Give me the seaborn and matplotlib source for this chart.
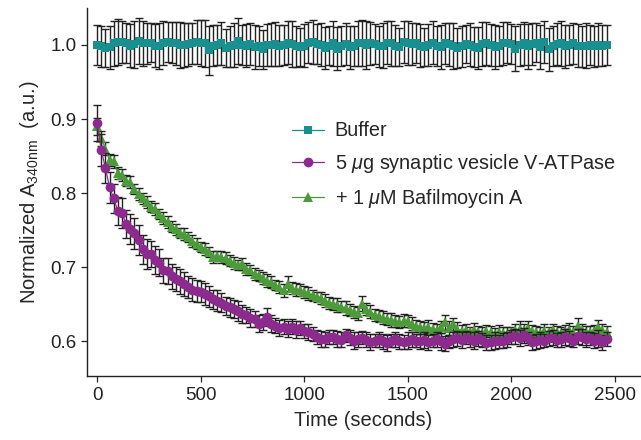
import numpy as np
import matplotlib
matplotlib.use('Agg')
import matplotlib.pyplot as plt
import seaborn as sns

# Nilai yang dibaca dari grafik (satu titik tiap 20 detik)
buffer_vals = [
    1.000, 0.998, 0.996, 0.997, 1.002, 1.004, 1.004, 1.002, 0.999, 1.001,
    1.005, 1.002, 1.002, 1.003, 0.999, 0.998, 1.003, 1.004, 1.003, 1.002,
    1.000, 1.000, 1.001, 1.002, 1.004, 1.003, 1.002, 0.993, 0.999, 1.000,
    1.002, 0.996, 0.998, 1.000, 1.005, 1.000, 0.999, 1.001, 0.997, 0.999,
    0.994, 1.000, 1.000, 1.001, 0.999, 1.000, 1.003, 1.001, 0.998, 0.997,
    0.999, 1.003, 1.004, 1.001, 1.000, 0.996, 0.999, 1.002, 0.995, 0.998,
    1.001, 0.997, 0.999, 1.002, 1.003, 1.000, 1.002, 1.001, 0.998, 0.999,
    1.003, 1.002, 0.999, 0.997, 1.004, 1.003, 1.001, 1.002, 0.999, 0.997,
    1.000, 1.003, 0.999, 0.997, 1.002, 1.001, 0.998, 0.996, 0.998, 1.001,
    1.000, 0.997, 0.996, 1.001, 1.002, 1.000, 0.997, 0.999, 1.002, 1.003,
    1.001, 0.995, 1.000, 1.002, 0.998, 1.001, 1.003, 0.997, 1.004, 0.994,
    0.999, 1.001, 1.002, 0.998, 1.000, 1.002, 0.999, 0.998, 0.999, 1.000,
    0.998, 1.000, 0.999, 1.000,
]
buffer_err = [
    0.027, 0.028, 0.026, 0.029, 0.030, 0.031, 0.028, 0.027, 0.029, 0.032,
    0.031, 0.030, 0.028, 0.026, 0.029, 0.031, 0.030, 0.027, 0.028, 0.029,
    0.031, 0.030, 0.029, 0.028, 0.030, 0.031, 0.032, 0.033, 0.028, 0.027,
    0.029, 0.026, 0.028, 0.030, 0.031, 0.027, 0.029, 0.028, 0.030, 0.027,
    0.026, 0.028, 0.029, 0.030, 0.028, 0.027, 0.029, 0.031, 0.028, 0.026,
    0.029, 0.028, 0.030, 0.027, 0.029, 0.028, 0.026, 0.030, 0.029, 0.027,
    0.028, 0.029, 0.027, 0.030, 0.031, 0.032, 0.029, 0.027, 0.028, 0.030,
    0.029, 0.031, 0.028, 0.026, 0.029, 0.030, 0.028, 0.027, 0.029, 0.026,
    0.028, 0.029, 0.027, 0.030, 0.028, 0.029, 0.031, 0.027, 0.028, 0.026,
    0.029, 0.027, 0.028, 0.030, 0.029, 0.028, 0.030, 0.027, 0.029, 0.028,
    0.027, 0.030, 0.028, 0.029, 0.030, 0.028, 0.026, 0.030, 0.028, 0.029,
    0.027, 0.028, 0.030, 0.029, 0.027, 0.028, 0.029, 0.028, 0.030, 0.027,
    0.028, 0.029, 0.028, 0.027,
]

vesicle_vals = [
    0.895, 0.858, 0.834, 0.808, 0.793, 0.776, 0.773, 0.758, 0.752, 0.746,
    0.737, 0.724, 0.718, 0.718, 0.710, 0.706, 0.696, 0.695, 0.688, 0.684,
    0.681, 0.677, 0.673, 0.670, 0.668, 0.667, 0.664, 0.661, 0.657, 0.655,
    0.652, 0.648, 0.646, 0.644, 0.641, 0.637, 0.636, 0.632, 0.630, 0.624,
    0.626, 0.633, 0.624, 0.621, 0.618, 0.620, 0.617, 0.620, 0.616, 0.618,
    0.614, 0.613, 0.610, 0.606, 0.603, 0.603, 0.606, 0.606, 0.603, 0.602,
    0.608, 0.605, 0.601, 0.603, 0.605, 0.602, 0.599, 0.601, 0.603, 0.600,
    0.598, 0.601, 0.603, 0.600, 0.599, 0.601, 0.603, 0.601, 0.600, 0.602,
    0.599, 0.601, 0.603, 0.600, 0.597, 0.600, 0.603, 0.604, 0.602, 0.605,
    0.603, 0.601, 0.604, 0.602, 0.598, 0.599, 0.601, 0.600, 0.601, 0.603,
    0.606, 0.607, 0.605, 0.608, 0.604, 0.599, 0.600, 0.602, 0.601, 0.604,
    0.605, 0.602, 0.603, 0.606, 0.604, 0.601, 0.607, 0.606, 0.603, 0.604,
    0.601, 0.604, 0.599, 0.603,
]
vesicle_err = [
    0.024, 0.022, 0.020, 0.021, 0.020, 0.019, 0.020, 0.019, 0.020, 0.021,
    0.020, 0.019, 0.020, 0.018, 0.019, 0.018, 0.017, 0.018, 0.017, 0.016,
    0.017, 0.016, 0.015, 0.016, 0.015, 0.014, 0.015, 0.014, 0.013, 0.014,
    0.013, 0.012, 0.013, 0.012, 0.013, 0.012, 0.011, 0.012, 0.011, 0.012,
    0.011, 0.012, 0.011, 0.010, 0.011, 0.010, 0.011, 0.010, 0.011, 0.010,
    0.010, 0.011, 0.009, 0.010, 0.011, 0.010, 0.009, 0.010, 0.011, 0.010,
    0.009, 0.010, 0.011, 0.010, 0.009, 0.010, 0.011, 0.009, 0.010, 0.010,
    0.011, 0.009, 0.010, 0.010, 0.009, 0.011, 0.010, 0.009, 0.010, 0.011,
    0.010, 0.009, 0.010, 0.011, 0.010, 0.009, 0.010, 0.010, 0.011, 0.009,
    0.010, 0.011, 0.010, 0.009, 0.010, 0.010, 0.011, 0.009, 0.010, 0.010,
    0.009, 0.010, 0.011, 0.010, 0.009, 0.010, 0.010, 0.011, 0.009, 0.010,
    0.010, 0.009, 0.010, 0.011, 0.010, 0.009, 0.010, 0.011, 0.010, 0.009,
    0.010, 0.011, 0.010, 0.009,
]

bafilo_vals = [
    0.890, 0.874, 0.860, 0.845, 0.843, 0.827, 0.824, 0.817, 0.815, 0.806,
    0.799, 0.793, 0.788, 0.782, 0.779, 0.772, 0.766, 0.761, 0.755, 0.751,
    0.746, 0.745, 0.741, 0.736, 0.732, 0.727, 0.725, 0.721, 0.714, 0.715,
    0.714, 0.712, 0.709, 0.706, 0.703, 0.704, 0.698, 0.696, 0.691, 0.689,
    0.686, 0.682, 0.680, 0.676, 0.673, 0.669, 0.678, 0.672, 0.670, 0.669,
    0.667, 0.665, 0.662, 0.660, 0.658, 0.655, 0.652, 0.651, 0.649, 0.647,
    0.645, 0.642, 0.640, 0.638, 0.651, 0.644, 0.640, 0.636, 0.634, 0.632,
    0.630, 0.629, 0.627, 0.626, 0.628, 0.627, 0.624, 0.621, 0.619, 0.618,
    0.620, 0.617, 0.615, 0.619, 0.626, 0.618, 0.624, 0.617, 0.614, 0.615,
    0.612, 0.616, 0.613, 0.611, 0.614, 0.612, 0.610, 0.613, 0.611, 0.610,
    0.612, 0.615, 0.617, 0.616, 0.618, 0.614, 0.612, 0.611, 0.614, 0.612,
    0.615, 0.613, 0.611, 0.614, 0.616, 0.613, 0.621, 0.615, 0.613, 0.612,
    0.614, 0.619, 0.615, 0.613,
]
bafilo_err = [
    0.012, 0.010, 0.009, 0.008, 0.009, 0.008, 0.008, 0.007, 0.008, 0.007,
    0.008, 0.007, 0.008, 0.007, 0.008, 0.007, 0.008, 0.008, 0.007, 0.008,
    0.007, 0.008, 0.007, 0.008, 0.008, 0.007, 0.008, 0.007, 0.008, 0.007,
    0.008, 0.008, 0.007, 0.008, 0.007, 0.008, 0.008, 0.007, 0.008, 0.007,
    0.008, 0.009, 0.008, 0.007, 0.008, 0.009, 0.010, 0.008, 0.009, 0.008,
    0.008, 0.009, 0.008, 0.007, 0.008, 0.009, 0.008, 0.008, 0.009, 0.008,
    0.009, 0.008, 0.008, 0.009, 0.010, 0.008, 0.009, 0.008, 0.008, 0.009,
    0.008, 0.009, 0.008, 0.008, 0.009, 0.008, 0.009, 0.008, 0.009, 0.008,
    0.009, 0.008, 0.009, 0.008, 0.010, 0.009, 0.008, 0.009, 0.008, 0.009,
    0.008, 0.009, 0.008, 0.009, 0.008, 0.009, 0.008, 0.009, 0.008, 0.009,
    0.008, 0.009, 0.010, 0.008, 0.009, 0.008, 0.009, 0.008, 0.009, 0.008,
    0.009, 0.008, 0.009, 0.008, 0.009, 0.008, 0.010, 0.009, 0.008, 0.009,
    0.008, 0.010, 0.009, 0.008,
]

time_sec = np.arange(len(buffer_vals)) * 20

labels = ['Buffer', r'5 $\mu$g synaptic vesicle V-ATPase', r'+ 1 $\mu$M Bafilmoycin A']
colors = ['#17908f', '#8c2a8e', '#4d9a3a']
markers = ['s', 'o', '^']
msizes = [5.5, 7, 6.5]

sns.set_style('ticks')
plt.rcParams['font.family'] = ['Liberation Sans', 'DejaVu Sans']
plt.rcParams['mathtext.fontset'] = 'custom'
plt.rcParams['mathtext.rm'] = 'Liberation Sans'
plt.rcParams['mathtext.it'] = 'Liberation Sans:italic'

fig = plt.figure(figsize=(6.41, 4.40), dpi=100)
ax = fig.add_axes([0.136, 0.145, 0.862, 0.837])

series = [(buffer_vals, buffer_err), (vesicle_vals, vesicle_err), (bafilo_vals, bafilo_err)]
zorders = [3, 5, 4]
for (vals, err), lab, c, m, ms, z in zip(series, labels, colors, markers, msizes, zorders):
    ax.errorbar(time_sec, vals, yerr=err, fmt='none', ecolor='#222222',
                elinewidth=1.0, capsize=3, capthick=1.0, zorder=z - 0.5)
    sns.lineplot(x=time_sec, y=vals, ax=ax, color=c, marker=m, markersize=ms,
                 markeredgewidth=0, linewidth=0.9, label=lab, zorder=z)

ax.set_xlim(-48, 2620)
ax.set_ylim(0.553, 1.05)
ax.set_xticks([0, 500, 1000, 1500, 2000, 2500])
ax.set_yticks([0.6, 0.7, 0.8, 0.9, 1.0])
ax.set_yticklabels(['0.6', '0.7', '0.8', '0.9', '1.0'])
ax.tick_params(labelsize=13.5, length=4, width=0.9, direction='out', colors='#222222')
for s in ['left', 'bottom']:
    ax.spines[s].set_linewidth(1.0)
    ax.spines[s].set_color('#222222')
sns.despine(ax=ax)

ax.set_xlabel('Time (seconds)', fontsize=14.5, labelpad=5)
ax.set_ylabel(r'Normalized A$_{\mathrm{340nm}}$  (a.u.)', fontsize=14.5, labelpad=7)

handles, labs = ax.get_legend_handles_labels()
ax.legend(handles, labs, loc='center left', bbox_to_anchor=(0.371, 0.571),
          frameon=False, fontsize=14.3, handlelength=1.6, handletextpad=0.55,
          labelspacing=0.6, borderpad=0, borderaxespad=0)

plt.savefig('out.png', dpi=100)
